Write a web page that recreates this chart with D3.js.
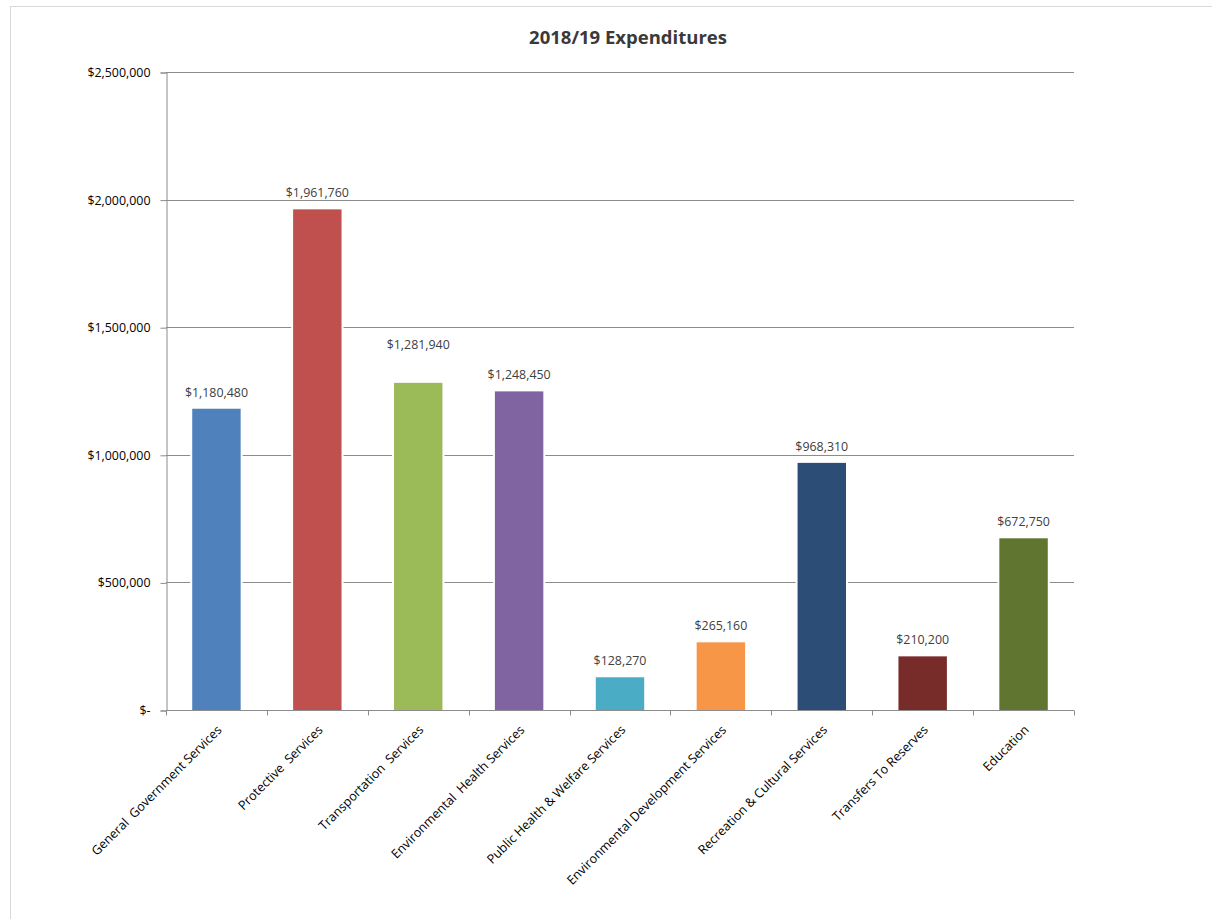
<!DOCTYPE html>
<html>
<head>
<meta charset="utf-8">
<script src="https://cdn.jsdelivr.net/npm/d3@7"></script>
<style>
  body { margin: 0; background: #fff; }
  svg text { font-family: "Open Sans", "Liberation Sans", sans-serif; }
</style>
</head>
<body>
<div id="chart"></div>
<script>
var categories = [
    'General  Government Services',
    'Protective  Services',
    'Transportation  Services',
    'Environmental  Health Services',
    'Public Health & Welfare Services',
    'Environmental Development Services',
    'Recreation & Cultural Services',
    'Transfers To Reserves',
    'Education'
];
var expenditures = [1180480, 1961760, 1281940, 1248450, 128270, 265160, 968310, 210200, 672750];
var barColors = ['#4F81BD', '#C0504D', '#9BBB59', '#8064A2', '#4BACC6', '#F79646', '#2C4D75', '#772C2A', '#5F7530'];
var yTicks = [0, 500000, 1000000, 1500000, 2000000, 2500000];

var width = 1212, height = 919;
var margin = { top: 72, right: 138, bottom: 209, left: 166 };

var svg = d3.select('#chart')
    .append('svg')
    .attr('width', width)
    .attr('height', height);

// chart frame
svg.append('rect')
    .attr('x', 10.5).attr('y', 6.5)
    .attr('width', 1220).attr('height', 930)
    .attr('fill', 'none')
    .attr('stroke', '#d9d9d9');

var x = d3.scaleBand()
    .domain(categories)
    .range([margin.left, width - margin.right])
    .paddingInner(0.52)
    .paddingOuter(0.26);

var y = d3.scaleLinear()
    .domain([0, 2500000])
    .range([height - margin.bottom, margin.top]);

var fmt = d3.format('$,');

// gridlines
svg.append('g')
    .selectAll('line')
    .data(yTicks.slice(1))
    .enter()
    .append('line')
    .attr('x1', margin.left)
    .attr('x2', width - margin.right)
    .attr('y1', function(d) { return Math.round(y(d)) + 0.5; })
    .attr('y2', function(d) { return Math.round(y(d)) + 0.5; })
    .attr('stroke', '#8c8c8c');

// y axis
var yAxis = svg.append('g')
    .attr('transform', 'translate(' + (margin.left + 0.5) + ',0.5)')
    .call(d3.axisLeft(y).tickValues(yTicks).tickSize(6).tickPadding(10)
        .tickFormat(function(d) { return d === 0 ? '$-' : fmt(d); }));
yAxis.select('.domain').attr('stroke', '#8c8c8c');
yAxis.selectAll('.tick line').attr('stroke', '#8c8c8c');
yAxis.selectAll('.tick text')
    .attr('fill', '#000')
    .style('font-size', '12.4px');

// bars, with a white halo that breaks the gridlines
var bars = svg.append('g')
    .selectAll('g')
    .data(categories)
    .enter()
    .append('g');

bars.append('rect')
    .attr('x', function(d) { return x(d) - 2; })
    .attr('y', function(d, i) { return y(expenditures[i]) - 2; })
    .attr('width', x.bandwidth() + 4)
    .attr('height', function(d, i) { return y(0) - y(expenditures[i]) + 1; })
    .attr('fill', '#fff');

bars.append('rect')
    .attr('x', function(d) { return x(d); })
    .attr('y', function(d, i) { return y(expenditures[i]); })
    .attr('width', x.bandwidth())
    .attr('height', function(d, i) { return y(0) - y(expenditures[i]); })
    .attr('fill', function(d, i) { return barColors[i]; });

// x axis: baseline plus ticks on the category boundaries
var xAxis = svg.append('g')
    .attr('transform', 'translate(0,' + (y(0) + 0.5) + ')');
xAxis.append('line')
    .attr('x1', margin.left).attr('x2', width - margin.right)
    .attr('stroke', '#8c8c8c');
var step = x.step();
var edges = d3.range(categories.length + 1).map(function(i) {
    return margin.left + i * step;
});
xAxis.selectAll('.xtick')
    .data(edges)
    .enter()
    .append('line')
    .attr('x1', function(d) { return Math.round(d) + 0.5; })
    .attr('x2', function(d) { return Math.round(d) + 0.5; })
    .attr('y1', 0).attr('y2', 5)
    .attr('stroke', '#8c8c8c');

xAxis.selectAll('.xlabel')
    .data(categories)
    .enter()
    .append('text')
    .attr('transform', function(d) {
        return 'translate(' + (x(d) + x.bandwidth() / 2 + 3) + ',17) rotate(-45)';
    })
    .attr('text-anchor', 'end')
    .attr('dy', '0.35em')
    .style('font-size', '12.6px')
    .attr('fill', '#000')
    .style('white-space', 'pre')
    .text(function(d) { return d; });

// data labels (Transportation label sits higher in the original)
var labelLift = { 'Transportation  Services': 22 };
svg.append('g')
    .selectAll('text')
    .data(categories)
    .enter()
    .append('text')
    .attr('x', function(d) { return x(d) + x.bandwidth() / 2; })
    .attr('y', function(d, i) { return y(expenditures[i]) - 12 - (labelLift[d] || 0); })
    .attr('text-anchor', 'middle')
    .style('font-size', '12.4px')
    .attr('fill', '#404040')
    .text(function(d, i) { return fmt(expenditures[i]); });

// title
svg.append('text')
    .attr('x', 628)
    .attr('y', 44)
    .attr('text-anchor', 'middle')
    .style('font-size', '18.5px')
    .style('font-weight', 'bold')
    .attr('fill', '#3a3a3a')
    .text('2018/19 Expenditures');
</script>
</body>
</html>
